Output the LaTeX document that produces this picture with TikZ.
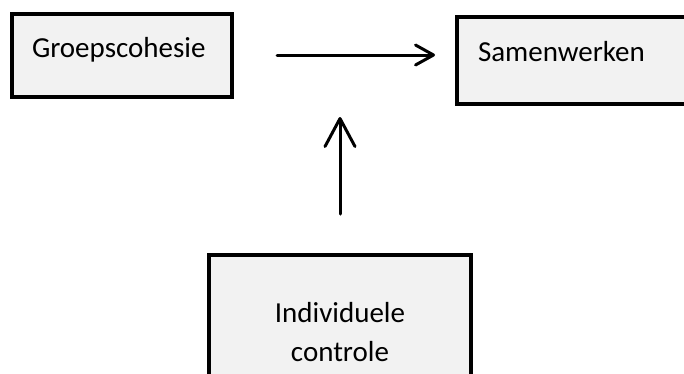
\documentclass[tikz,border=0pt]{standalone}
\usepackage{fontspec}
\setmainfont{Carlito}
\usetikzlibrary{arrows.meta}

\begin{document}
\begin{tikzpicture}[x=1pt, y=-1pt,
		box/.style={draw, line width=4pt, fill=gray!10, inner sep=0pt, font=\fontsize{29}{39}\selectfont},
		link/.style={line width=3pt, line cap=round}]
		\useasboundingbox (0,0) rectangle (684,373);
		\clip (0,0) rectangle (684,373);
		
		\node [box, inner xsep=20pt, text width=180pt, align=left, text height=44pt, text depth=39pt] (group) at (122,55) {Groepscohesie};
		\node [box, inner xsep=21pt, text width=241pt, align=left, text height=44pt, text depth=43pt] (work) at (598.5,60.5) {Samenwerken};
		\node [box, text width=262pt, align=center, text height=67pt, text depth=69pt] (ctrl) at (340,323) {Individuele\\controle};
		
		\coordinate (effect) at (340,117);
		
		\draw [link, -{Straight Barb[length=18pt, width=20pt, round]}, shorten <=43pt, shorten >=20pt] (group.east) -- (group.east -| work.west);
		\draw [link, -{Straight Barb[length=28pt, width=30pt, round]}, shorten <=39pt] (ctrl.north) -- (effect);
	\end{tikzpicture}
\end{document}
